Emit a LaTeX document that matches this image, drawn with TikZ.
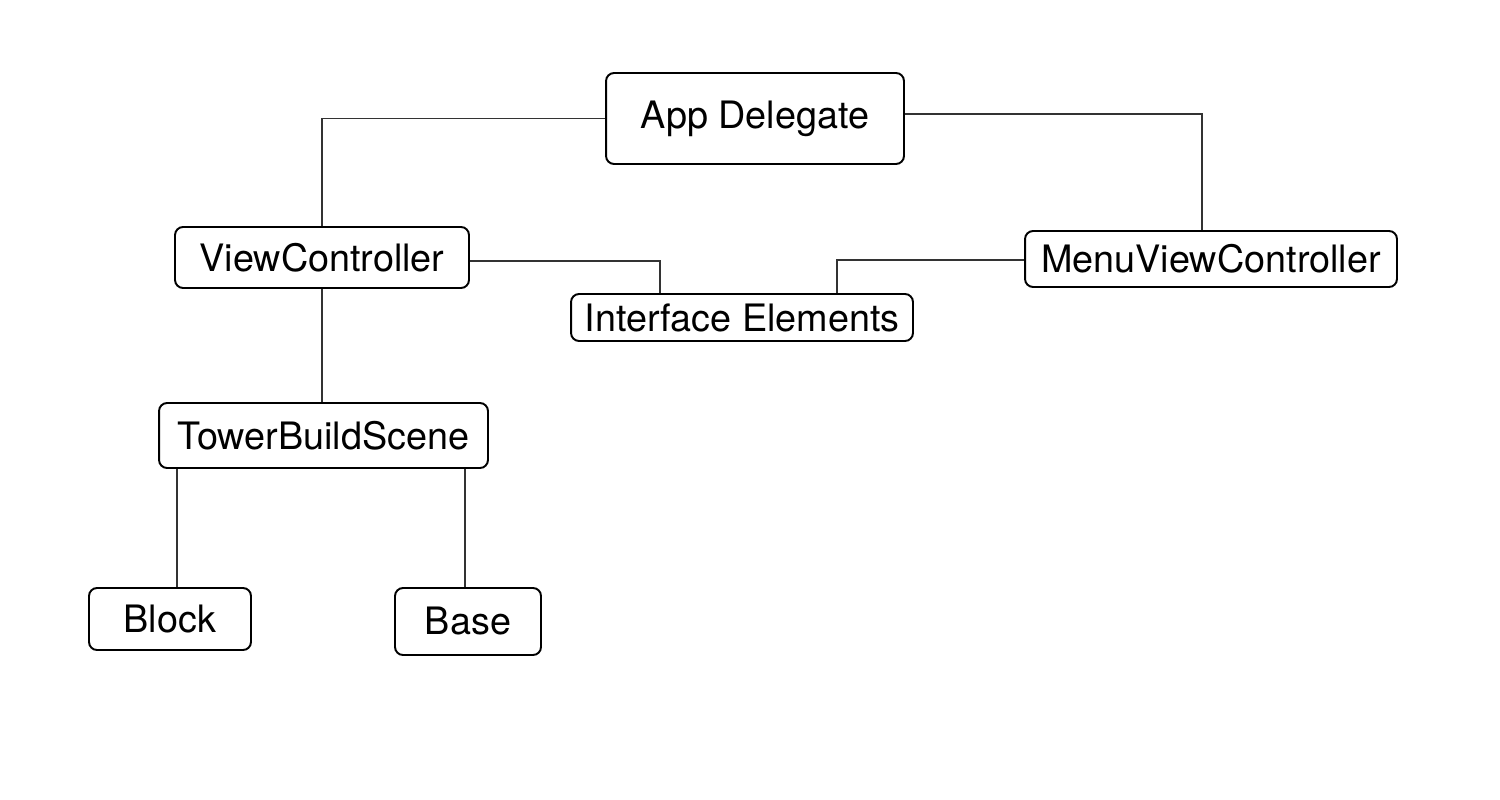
\documentclass[tikz,border=0pt]{standalone}
\usepackage{fontspec}
\setmainfont{TeX Gyre Heros}
\usetikzlibrary{positioning}

\tikzset{
  classbox/.style={draw=black, line width=1.1pt, rounded corners=0.16cm, fill=white,
    inner sep=0pt, font=\fontsize{21.5}{26}\selectfont},
  link/.style={draw=black!80, line width=0.75pt}
}

\begin{document}
\begin{tikzpicture}[x=0.02cm, y=-0.02cm]
\useasboundingbox (0,0) rectangle (1500,800);
% classes
\node[classbox, minimum width=5.96cm, minimum height=1.82cm] (app) at (755,118.5) {App Delegate};
\node[classbox, minimum width=5.88cm, minimum height=1.22cm] (vc) at (322,257.5) {ViewController};
\node[classbox, minimum width=7.44cm, minimum height=1.12cm] (menu) at (1211,259) {MenuViewController};
\node[classbox, minimum width=6.84cm, minimum height=0.94cm] (ie) at (742,317.5) {Interface Elements};
\node[classbox, minimum width=6.58cm, minimum height=1.30cm] (tbs) at (323.5,435.5) {TowerBuildScene};
\node[classbox, minimum width=3.24cm, minimum height=1.24cm] (blk) at (170,619) {Block};
\node[classbox, minimum width=2.92cm, minimum height=1.34cm] (bas) at (468,621.5) {Base};
% links
\draw[link] (app.west) -| (vc.north);
\draw[link] ([yshift=0.09cm]app.east) -| ([xshift=-0.18cm]menu.north);
\draw[link] ([yshift=-0.07cm]vc.east) -| ([xshift=-1.64cm]ie.north);
\draw[link] ([yshift=-0.02cm]menu.west) -| ([xshift=1.9cm]ie.north);
\draw[link] (vc.south) -- (vc.south |- tbs.north);
\draw[link] ([xshift=0.14cm]blk.north) -- ([xshift=0.14cm]blk.north |- tbs.south);
\draw[link] ([xshift=-0.06cm]bas.north) -- ([xshift=-0.06cm]bas.north |- tbs.south);
\end{tikzpicture}
\end{document}
